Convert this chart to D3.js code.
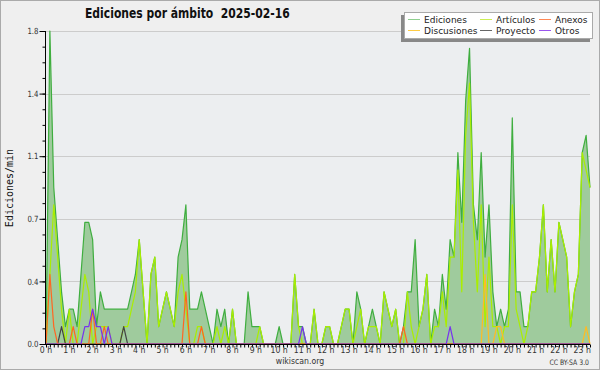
<!DOCTYPE html>
<html>
<head>
<meta charset="utf-8">
<script src="https://cdn.jsdelivr.net/npm/d3@7"></script>
<style>
  html, body { margin: 0; padding: 0; background: #efefef; }
  svg text { font-family: "DejaVu Sans", sans-serif; }
</style>
</head>
<body>
<div id="chart"></div>
<script>
// edits per minute, one value per 10 minutes from 00:00 to 23:20
const ediciones = [
  0, 1.8, 0.9, 0.6, 0.3, 0.1, 0.2, 0.2, 0.1, 0.4, 0.7, 0.7,
  0.6, 0.1, 0.3, 0.2, 0.2, 0.2, 0.2, 0.2, 0.2, 0.2, 0.3, 0.4,
  0.6, 0.3, 0, 0.4, 0.5, 0.1, 0.2, 0.3, 0.2, 0.1, 0.5, 0.6,
  0.8, 0.2, 0.2, 0.2, 0.3, 0.2, 0.1, 0, 0.2, 0.1, 0.2, 0,
  0.2, 0, 0, 0, 0.3, 0.1, 0.1, 0.1, 0, 0, 0, 0,
  0.1, 0, 0, 0, 0.4, 0.1, 0.1, 0, 0, 0.2, 0, 0,
  0.1, 0.1, 0, 0, 0.1, 0.2, 0.2, 0, 0.3, 0.2, 0, 0.1,
  0.2, 0.1, 0, 0.3, 0.2, 0.1, 0.2, 0, 0.1, 0.3, 0.3, 0.6,
  0.1, 0.2, 0.4, 0, 0.2, 0.1, 0.4, 0.2, 0.6, 0.5, 1.1, 0.7,
  1.4, 1.7, 0.8, 0.6, 1.1, 0.5, 0.8, 0.3, 0.1, 0.2, 0.1, 0.2,
  1.3, 0.3, 0.3, 0.1, 0.1, 0.3, 0.3, 0.5, 0.8, 0.3, 0.6, 0.3,
  0.7, 0.6, 0.5, 0.1, 0.3, 0.4, 1.1, 1.2, 0.9
];
const articulos = [
  0, 0.4, 0.8, 0.5, 0.2, 0, 0.2, 0, 0, 0.2, 0.4, 0.3,
  0, 0.1, 0.1, 0.1, 0.1, 0, 0, 0, 0.1, 0.1, 0.2, 0.3,
  0.6, 0.3, 0, 0.4, 0.5, 0.1, 0.2, 0.3, 0.2, 0.1, 0.3, 0.4,
  0.2, 0, 0, 0.1, 0.1, 0, 0, 0, 0.1, 0, 0.1, 0,
  0.2, 0, 0, 0, 0, 0, 0, 0.1, 0, 0, 0, 0,
  0, 0, 0, 0, 0.4, 0.1, 0, 0, 0, 0.2, 0, 0,
  0.1, 0.1, 0, 0, 0.1, 0.2, 0.2, 0, 0.1, 0.2, 0, 0.1,
  0.1, 0.1, 0, 0.3, 0.2, 0.1, 0.2, 0, 0, 0.3, 0.1, 0,
  0.1, 0.2, 0.4, 0, 0.1, 0.1, 0.3, 0.1, 0.5, 0.5, 1.0, 0.3,
  1.2, 1.5, 0.7, 0.3, 0.8, 0.1, 0.5, 0.1, 0.1, 0, 0.1, 0.1,
  0.8, 0.2, 0.1, 0, 0.1, 0.3, 0.3, 0.5, 0.8, 0.3, 0.6, 0.3,
  0.7, 0.6, 0.5, 0.1, 0.3, 0.4, 1.1, 1.0, 0.9
];
const anexos = [
  0, 0.4, 0.1, 0, 0, 0, 0, 0.1, 0, 0, 0, 0,
  0.2, 0, 0, 0.1, 0, 0, 0, 0, 0, 0, 0, 0,
  0, 0, 0, 0, 0, 0, 0, 0, 0, 0, 0, 0,
  0.3, 0, 0, 0, 0.1, 0, 0, 0, 0, 0, 0, 0,
  0, 0, 0, 0, 0, 0, 0, 0, 0, 0, 0, 0,
  0, 0, 0, 0, 0, 0, 0, 0, 0, 0, 0, 0,
  0, 0, 0, 0, 0, 0, 0, 0, 0, 0, 0, 0,
  0, 0, 0, 0, 0, 0, 0, 0, 0.1, 0, 0, 0,
  0, 0, 0, 0, 0, 0, 0, 0, 0, 0, 0, 0,
  0, 0, 0, 0, 0, 0, 0, 0, 0, 0, 0, 0,
  0, 0, 0, 0, 0, 0, 0, 0, 0, 0, 0, 0,
  0, 0, 0, 0, 0, 0, 0, 0, 0
];
const discusiones = [
  0, 0, 0, 0, 0, 0, 0, 0, 0, 0, 0, 0,
  0, 0, 0, 0, 0, 0, 0, 0, 0, 0, 0, 0,
  0, 0, 0, 0, 0, 0, 0, 0, 0, 0, 0, 0,
  0, 0, 0, 0, 0, 0, 0, 0, 0, 0, 0, 0,
  0, 0, 0, 0, 0, 0, 0, 0, 0, 0, 0, 0,
  0, 0, 0, 0, 0, 0, 0, 0, 0, 0, 0, 0,
  0, 0, 0, 0, 0, 0, 0, 0, 0, 0, 0, 0,
  0, 0, 0, 0, 0, 0, 0, 0, 0, 0, 0, 0,
  0, 0, 0, 0, 0, 0, 0, 0, 0, 0, 0, 0,
  0, 0, 0, 0, 0, 0.4, 0, 0, 0.1, 0.1, 0, 0,
  0, 0, 0, 0, 0, 0, 0, 0, 0, 0, 0, 0,
  0, 0, 0, 0, 0, 0, 0, 0.1, 0
];
const proyecto = [
  0, 0, 0, 0, 0.1, 0, 0, 0, 0, 0, 0, 0,
  0, 0, 0, 0, 0, 0, 0, 0, 0.1, 0, 0, 0,
  0, 0, 0, 0, 0, 0, 0, 0, 0, 0, 0, 0,
  0, 0, 0, 0, 0, 0, 0, 0, 0, 0, 0, 0,
  0, 0, 0, 0, 0, 0, 0, 0, 0, 0, 0, 0,
  0, 0, 0, 0, 0, 0, 0, 0, 0, 0, 0, 0,
  0, 0, 0, 0, 0, 0, 0, 0, 0, 0, 0, 0,
  0, 0, 0, 0, 0, 0, 0, 0, 0, 0, 0, 0,
  0, 0, 0, 0, 0, 0, 0, 0, 0, 0, 0, 0,
  0, 0, 0, 0, 0, 0, 0, 0, 0, 0, 0, 0,
  0, 0, 0, 0, 0, 0, 0, 0, 0, 0, 0, 0,
  0, 0, 0, 0, 0, 0, 0, 0, 0
];
const otros = [
  0, 0, 0, 0, 0, 0, 0, 0, 0, 0, 0.1, 0.1,
  0.2, 0.1, 0.1, 0, 0.1, 0, 0, 0, 0, 0, 0, 0,
  0, 0, 0, 0, 0, 0, 0, 0, 0, 0, 0, 0,
  0, 0, 0, 0, 0, 0, 0, 0, 0, 0, 0, 0,
  0, 0, 0, 0, 0, 0, 0, 0, 0, 0, 0, 0,
  0, 0, 0, 0, 0, 0, 0.1, 0, 0, 0, 0, 0,
  0, 0, 0, 0, 0, 0, 0, 0, 0, 0, 0, 0,
  0, 0, 0, 0, 0, 0, 0, 0, 0, 0, 0, 0,
  0, 0, 0, 0, 0, 0, 0, 0, 0.1, 0, 0, 0,
  0, 0, 0, 0, 0, 0, 0, 0, 0, 0, 0, 0,
  0, 0, 0, 0, 0, 0, 0, 0, 0, 0, 0, 0,
  0, 0, 0, 0, 0, 0, 0, 0, 0
];
const hourLabels = ['0 h', '1 h', '2 h', '3 h', '4 h', '5 h', '6 h', '7 h', '8 h', '9 h', '10 h', '11 h',
  '12 h', '13 h', '14 h', '15 h', '16 h', '17 h', '18 h', '19 h', '20 h', '21 h', '22 h', '23 h'];
const yTicks = [0, 0.36, 0.72, 1.08, 1.44, 1.8];
const yMax = 1.8;

const legendItems = [
  { name: 'Ediciones', color: '#8fcf8f', col: 0, row: 0 },
  { name: 'Discusiones', color: '#ffcc44', col: 0, row: 1 },
  { name: 'Artículos', color: '#ccee55', col: 1, row: 0 },
  { name: 'Proyecto', color: '#666666', col: 1, row: 1 },
  { name: 'Anexos', color: '#ff8855', col: 2, row: 0 },
  { name: 'Otros', color: '#9955ee', col: 2, row: 1 }
];

const width = 600;
const height = 370;
const plotLeft = 46, plotRight = 590, plotTop = 31, plotBottom = 344;
const squeeze = 0.82; // the original uses a condensed face

const svg = d3.select('#chart')
  .append('svg')
  .attr('width', width)
  .attr('height', height)
  .attr('viewBox', `0 0 ${width} ${height}`);

svg.append('rect')
  .attr('x', 0.5).attr('y', 0.5)
  .attr('width', width - 1).attr('height', height - 1)
  .attr('fill', '#efefef')
  .attr('stroke', '#aaaaaa');

const x = d3.scaleLinear().domain([0, ediciones.length - 1]).range([plotLeft, plotRight]);
const y = d3.scaleLinear().domain([0, yMax]).range([plotBottom, plotTop]);

svg.append('rect')
  .attr('x', plotLeft).attr('y', plotTop)
  .attr('width', plotRight - plotLeft).attr('height', plotBottom - plotTop)
  .attr('fill', '#eceef0');

// grid
svg.append('g')
  .selectAll('line')
  .data(yTicks.slice(1))
  .enter().append('line')
  .attr('x1', plotLeft).attr('x2', plotRight)
  .attr('y1', d => Math.round(y(d)) + 0.5)
  .attr('y2', d => Math.round(y(d)) + 0.5)
  .attr('stroke', '#cccccc');

const idx = d3.range(ediciones.length);

const area = d3.area()
  .x(i => x(i))
  .y0(y(0))
  .y1(i => y(ediciones[i]));

svg.append('path')
  .datum(idx)
  .attr('d', area)
  .attr('fill', '#9fcb9d');

const series = [
  { values: ediciones, color: '#3fae3f' },
  { values: articulos, color: '#aaee00' },
  { values: discusiones, color: '#ffbb22' },
  { values: proyecto, color: '#444444' },
  { values: anexos, color: '#ff6622' },
  { values: otros, color: '#7733ee' }
];

series.forEach(s => {
  const line = d3.line()
    .x(i => x(i))
    .y(i => y(s.values[i]));
  svg.append('path')
    .datum(idx)
    .attr('d', line)
    .attr('fill', 'none')
    .attr('stroke', s.color)
    .attr('stroke-width', 1.2)
    .attr('stroke-linejoin', 'round');
});

// y axis
const yMinor = d3.range(0, 21).map(k => k * 0.09);
svg.append('g')
  .attr('transform', `translate(${plotLeft - 0.5},0)`)
  .call(d3.axisLeft(y).tickValues(yMinor).tickSize(3).tickFormat(''))
  .call(g => g.select('.domain').remove());

const yAxis = svg.append('g')
  .attr('transform', `translate(${plotLeft - 0.5},0)`)
  .call(d3.axisLeft(y).tickValues(yTicks).tickSize(6).tickPadding(1).tickFormat(d3.format('.1f')));
yAxis.selectAll('text')
  .attr('font-size', 8.5)
  .attr('fill', '#333')
  .attr('x', -7 / squeeze)
  .attr('transform', `scale(${squeeze},1)`);
yAxis.select('.domain').attr('d', `M0,${plotTop}V${plotBottom}`);

// x axis
const xAxis = svg.append('g')
  .attr('transform', `translate(0,${plotBottom + 0.5})`)
  .call(d3.axisBottom(x).tickValues(idx).tickSize(3).tickFormat(''));
xAxis.select('.domain').attr('d', `M${plotLeft - 1},0H${plotRight}`);

svg.append('g')
  .selectAll('text')
  .data(hourLabels)
  .enter().append('text')
  .attr('transform', (d, h) => `translate(${x(h * 6)},353) scale(${squeeze},1)`)
  .attr('text-anchor', 'middle')
  .attr('font-size', 9.5)
  .attr('fill', '#333')
  .text(d => d);

// titles
svg.append('text')
  .attr('transform', 'translate(85,18) scale(0.8,1)')
  .attr('font-size', 13.5)
  .attr('font-weight', 'bold')
  .attr('fill', '#111')
  .style('white-space', 'pre')
  .text('Ediciones por ámbito  2025-02-16');

svg.append('text')
  .attr('transform', 'translate(13,188) rotate(-90)')
  .attr('text-anchor', 'middle')
  .attr('font-size', 10)
  .style('font-family', '"DejaVu Sans Mono", monospace')
  .attr('fill', '#111')
  .text('Ediciones/min');

svg.append('text')
  .attr('transform', `translate(300,364) scale(${squeeze},1)`)
  .attr('text-anchor', 'middle')
  .attr('font-size', 9.5)
  .attr('fill', '#333')
  .text('wikiscan.org');

svg.append('text')
  .attr('transform', `translate(589,365) scale(${squeeze},1)`)
  .attr('text-anchor', 'end')
  .attr('font-size', 7.5)
  .attr('fill', '#333')
  .text('CC BY-SA 3.0');

// legend
const lg = svg.append('g');
lg.append('rect')
  .attr('x', 401).attr('y', 15)
  .attr('width', 189).attr('height', 27)
  .attr('fill', '#888888');
lg.append('rect')
  .attr('x', 404.5).attr('y', 12.5)
  .attr('width', 188).attr('height', 26)
  .attr('fill', '#ffffff')
  .attr('stroke', '#aaaaaa');

const colX = [408, 480, 539];
const rowY = [19, 30];
const items = lg.selectAll('g.item')
  .data(legendItems)
  .enter().append('g')
  .attr('class', 'item')
  .attr('transform', d => `translate(${colX[d.col]},${rowY[d.row]})`);
items.append('line')
  .attr('x1', 0).attr('x2', 12)
  .attr('y1', 0.5).attr('y2', 0.5)
  .attr('stroke', d => d.color)
  .attr('stroke-width', 1);
items.append('text')
  .attr('transform', 'translate(16,3.5) scale(0.95,1)')
  .attr('font-size', 9.5)
  .attr('fill', '#222')
  .text(d => d.name);
</script>
</body>
</html>
